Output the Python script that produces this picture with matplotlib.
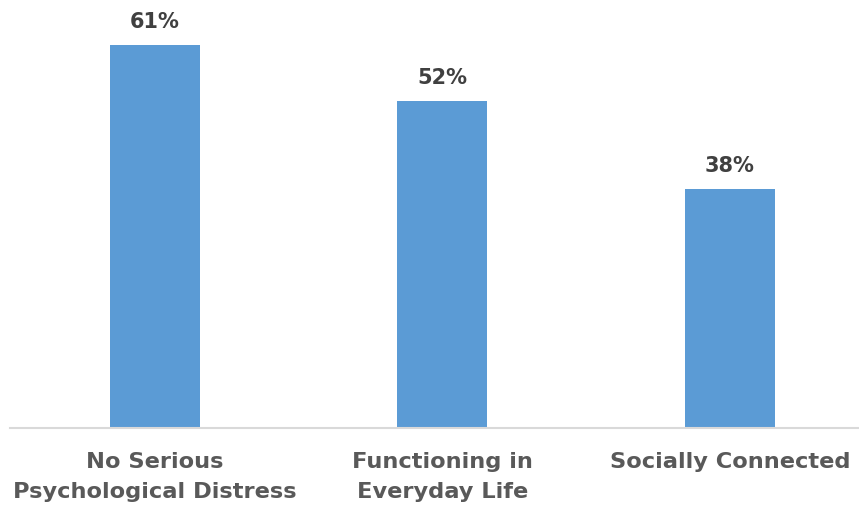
import matplotlib
matplotlib.use("Agg")
import matplotlib.pyplot as plt

categories = ["No Serious\nPsychological Distress", "Functioning in\nEveryday Life", "Socially Connected"]
values = [61, 52, 38]
value_labels = ["61%", "52%", "38%"]

W, H = 859, 509
fig = plt.figure(figsize=(W / 100, H / 100), dpi=100)
left = 10 / W
right = 859 / W
bottom = 1 - 428 / H
top = 1.0
ax = fig.add_axes([left, bottom, right - left, top - bottom])

x = list(range(len(categories)))
ax.bar(x, values, width=0.313, color="#5B9BD5", zorder=2)
ax.set_xlim(-0.504, 2.449)
ax.set_ylim(0, 428 / 6.28)

for xi, v, lab in zip(x, values, value_labels):
    ax.annotate(lab, (xi, v), xytext=(0, 9.5), textcoords="offset points",
                ha="center", va="bottom", fontsize=15, fontweight="bold",
                color="#404040", family=["DejaVu Sans"])

for s in ["top", "right", "left"]:
    ax.spines[s].set_visible(False)
ax.spines["bottom"].set_color("#D9D9D9")
ax.spines["bottom"].set_linewidth(1.5)
ax.set_yticks([])
ax.set_xticks(x)
ax.set_xticklabels(categories, fontsize=16.2, fontweight="bold", color="#595959",
                   family=["DejaVu Sans"], linespacing=1.62)
ax.tick_params(axis="x", length=0, pad=17)

fig.savefig("out.png", dpi=100, facecolor="white")
